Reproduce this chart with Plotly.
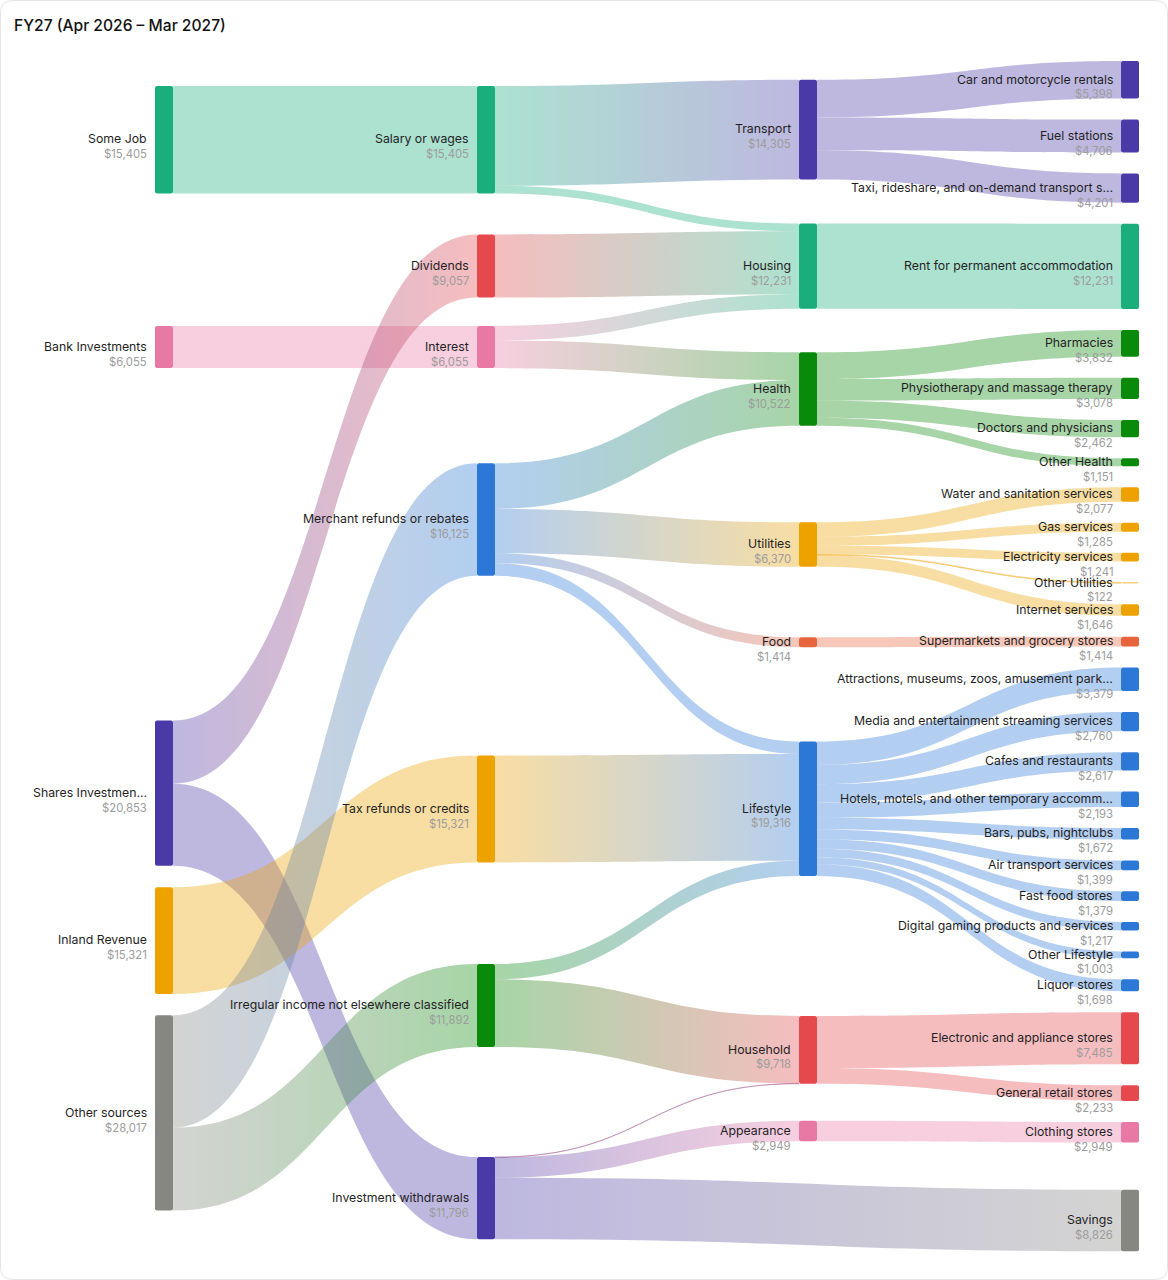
import json
import plotly.graph_objects as go

# ---------------- data ----------------
income_sources = ["Some Job", "Bank Investments", "Shares Investmen…", "Inland Revenue", "Other sources"]
income_types = ["Salary or wages", "Dividends", "Interest", "Merchant refunds or rebates",
                "Tax refunds or credits", "Irregular income not elsewhere classified",
                "Investment withdrawals"]
categories = ["Transport", "Housing", "Health", "Utilities", "Food", "Lifestyle",
              "Household", "Appearance", "Savings"]
subcategories = [
    "Car and motorcycle rentals", "Fuel stations", "Taxi, rideshare, and on-demand transport s…",
    "Rent for permanent accommodation",
    "Pharmacies", "Physiotherapy and massage therapy", "Doctors and physicians", "Other Health",
    "Water and sanitation services", "Gas services", "Electricity services", "Other Utilities",
    "Internet services",
    "Supermarkets and grocery stores",
    "Attractions, museums, zoos, amusement park…", "Media and entertainment streaming services",
    "Cafes and restaurants", "Hotels, motels, and other temporary accomm…", "Bars, pubs, nightclubs",
    "Air transport services", "Fast food stores", "Digital gaming products and services",
    "Other Lifestyle", "Liquor stores",
    "Electronic and appliance stores", "General retail stores",
    "Clothing stores",
]
sub_parent = (["Transport"] * 3 + ["Housing"] + ["Health"] * 4 + ["Utilities"] * 5 + ["Food"]
              + ["Lifestyle"] * 10 + ["Household"] * 2 + ["Appearance"])
sub_values = [5398, 4706, 4201,
              12231,
              3832, 3078, 2462, 1151,
              2077, 1285, 1241, 122, 1646,
              1414,
              3379, 2760, 2617, 2193, 1672, 1399, 1379, 1217, 1003, 1698,
              7485, 2233,
              2949]

flow_from = ["Some Job", "Bank Investments", "Shares Investmen…", "Shares Investmen…",
             "Inland Revenue", "Other sources", "Other sources",
             "Salary or wages", "Salary or wages", "Dividends", "Interest", "Interest",
             "Merchant refunds or rebates", "Merchant refunds or rebates",
             "Merchant refunds or rebates", "Merchant refunds or rebates",
             "Tax refunds or credits",
             "Irregular income not elsewhere classified", "Irregular income not elsewhere classified",
             "Investment withdrawals", "Investment withdrawals", "Investment withdrawals"]
flow_to = ["Salary or wages", "Interest", "Dividends", "Investment withdrawals",
           "Tax refunds or credits", "Merchant refunds or rebates",
           "Irregular income not elsewhere classified",
           "Transport", "Housing", "Housing", "Housing", "Health",
           "Health", "Utilities", "Food", "Lifestyle",
           "Lifestyle",
           "Lifestyle", "Household",
           "Household", "Appearance", "Savings"]
flow_value = [15405, 6055, 9057, 11796,
              15321, 16125, 11892,
              14305, 1100, 9057, 2074, 3981,
              6541, 6370, 1414, 1800,
              15321,
              2195, 9697,
              21, 2949, 8826]

# ---------------- styles ----------------
GREEN, PINK, PURPLE, ORANGE = "#1aae7d", "#e879a5", "#4a3aa7", "#eda200"
GRAY, RED, BLUE, DKGREEN, FOOD = "#878782", "#e5484d", "#2c78d6", "#0a8a0a", "#e8643c"
group_color = {
    "Some Job": GREEN, "Bank Investments": PINK, "Shares Investmen…": PURPLE,
    "Inland Revenue": ORANGE, "Other sources": GRAY,
    "Salary or wages": GREEN, "Dividends": RED, "Interest": PINK,
    "Merchant refunds or rebates": BLUE, "Tax refunds or credits": ORANGE,
    "Irregular income not elsewhere classified": DKGREEN, "Investment withdrawals": PURPLE,
    "Transport": PURPLE, "Housing": GREEN, "Health": DKGREEN, "Utilities": ORANGE,
    "Food": FOOD, "Lifestyle": BLUE, "Household": RED, "Appearance": PINK, "Savings": GRAY,
}
LINK_ALPHA = 0.36

W, H = 1168, 1280
COL_X = [164, 486, 808, 1130]          # node centre x, px
THICK = 18
KY = 0.00697                            # px per dollar
SUB_TOP, SUB_GAP = 61, 21
center_y = {                            # node centre y, px
    "Some Job": 139.7, "Bank Investments": 347, "Shares Investmen…": 793.2,
    "Inland Revenue": 940.7, "Other sources": 1112.9,
    "Salary or wages": 139.7, "Dividends": 266, "Interest": 347,
    "Merchant refunds or rebates": 519.5, "Tax refunds or credits": 809,
    "Irregular income not elsewhere classified": 1005.5, "Investment withdrawals": 1198.2,
    "Transport": 129.7, "Housing": 266.2, "Health": 389, "Utilities": 544.5, "Food": 642.2,
    "Lifestyle": 808.8, "Household": 1049.8, "Appearance": 1131, "Savings": 1220.5,
}

# ---------------- build ----------------
names = income_sources + income_types + categories + subcategories
idx = {n: i for i, n in enumerate(names)}
col = {}
for n in income_sources:
    col[n] = 0
for n in income_types:
    col[n] = 1
for n in categories:
    col[n] = 2
col["Savings"] = 3
for n in subcategories:
    col[n] = 3

y = SUB_TOP
for n, v in zip(subcategories, sub_values):
    h = v * KY
    center_y[n] = y + h / 2
    y += h + SUB_GAP

node_color = [group_color.get(n) for n in names]
for n, p in zip(subcategories, sub_parent):
    node_color[idx[n]] = group_color[p]

src = [idx[a] for a in flow_from] + [idx[p] for p in sub_parent]
tgt = [idx[b] for b in flow_to] + [idx[s] for s in subcategories]
val = flow_value + sub_values

def rgb(hx):
    hx = hx.lstrip("#")
    return tuple(int(hx[i:i + 2], 16) for i in (0, 2, 4))

def blend(a, b):
    ra, rb = rgb(a), rgb(b)
    m = tuple(round((x + y2) / 2) for x, y2 in zip(ra, rb))
    return f"rgba({m[0]},{m[1]},{m[2]},{LINK_ALPHA})"

link_color = [blend(node_color[s], node_color[t]) for s, t in zip(src, tgt)]

# displayed node totals
incoming = [0] * len(names)
outgoing = [0] * len(names)
for s, t, v in zip(src, tgt, val):
    outgoing[s] += v
    incoming[t] += v
shown = [incoming[i] if incoming[i] else outgoing[i] for i in range(len(names))]

# d3-sankey vertical scale: pad chosen so that ky == KY for the densest column
col3_nodes = [i for i, n in enumerate(names) if col[n] == 3]
col3_total = sum(max(incoming[i], outgoing[i]) for i in col3_nodes)
PAD = (H - KY * col3_total) / (len(col3_nodes) - 1)

fig = go.Figure(go.Sankey(
    arrangement="fixed",
    domain=dict(x=[0, 1], y=[0, 1]),
    node=dict(
        label=[""] * len(names),
        customdata=names,
        hovertemplate="%{customdata}<br>$%{value:,.0f}<extra></extra>",
        color=node_color,
        thickness=THICK,
        pad=PAD,
        line=dict(width=0),
        x=[COL_X[col[n]] / W for n in names],
        y=[center_y[n] / H for n in names],
    ),
    link=dict(source=src, target=tgt, value=val, color=link_color,
              hovertemplate="$%{value:,.0f}<extra></extra>"),
))

annotations = []
for i, n in enumerate(names):
    cx, cy = COL_X[col[n]], center_y[n]
    xr = (cx - THICK / 2 - 6) / W
    annotations.append(dict(
        x=xr, y=1 - (cy - 0.8) / H, xref="paper", yref="paper",
        xanchor="right", yanchor="middle", showarrow=False, text=n,
        font=dict(family="Inter", size=12.3, color="#1f1f1f")))
    annotations.append(dict(
        x=xr, y=1 - (cy + 14.6) / H, xref="paper", yref="paper",
        xanchor="right", yanchor="middle", showarrow=False, text=f"${shown[i]:,}",
        font=dict(family="Inter", size=11.3, color="#9c9c9c")))

annotations.append(dict(
    x=12 / W, y=1 - 26 / H, xref="paper", yref="paper", xanchor="left", yanchor="middle",
    showarrow=False, text="FY27 (Apr 2026 – Mar 2027)",
    font=dict(family="Inter", size=15.6, color="#111111", weight=500)))

# card border with rounded corners
r = 12
x0, x1, y0, y1 = 0.5 / W, (W - 0.5) / W, 0.5 / H, (H - 0.5) / H
rx, ry = r / W, r / H
card = (f"M {x0+rx},{y0} L {x1-rx},{y0} Q {x1},{y0} {x1},{y0+ry} L {x1},{y1-ry} "
        f"Q {x1},{y1} {x1-rx},{y1} L {x0+rx},{y1} Q {x0},{y1} {x0},{y1-ry} "
        f"L {x0},{y0+ry} Q {x0},{y0} {x0+rx},{y0} Z")

fig.update_layout(
    width=W, height=H,
    margin=dict(l=0, r=0, t=0, b=0),
    paper_bgcolor="white",
    font=dict(family="Inter", size=12, color="#1f1f1f"),
    annotations=annotations,
    shapes=[dict(type="path", path=card, xref="paper", yref="paper",
                 line=dict(color="#e4e4e4", width=1), fillcolor="rgba(0,0,0,0)", layer="above")],
)

src_cols = [node_color[s] for s in src]
tgt_cols = [node_color[t] for t in tgt]
post = """
(function(){
  document.documentElement.style.margin = '0';
  document.body.style.margin = '0';
  document.body.style.overflow = 'hidden';
  var gd = document.getElementById('{plot_id}');
  var SRC = %s, TGT = %s;
  var ns = 'http://www.w3.org/2000/svg';
  var svg = gd.querySelector('svg.main-svg');
  var defs = document.createElementNS(ns, 'defs');
  svg.insertBefore(defs, svg.firstChild);
  gd.querySelectorAll('path.sankey-link').forEach(function(p, k){
    var d = p.__data__; if(!d || !d.link) return;
    var l = d.link; var i = (l.pointNumber !== undefined) ? l.pointNumber : k;
    var g = document.createElementNS(ns, 'linearGradient');
    var id = 'skgrad' + k;
    g.setAttribute('id', id);
    g.setAttribute('gradientUnits', 'userSpaceOnUse');
    g.setAttribute('x1', l.source.x1); g.setAttribute('y1', 0);
    g.setAttribute('x2', l.target.x0); g.setAttribute('y2', 0);
    [[0, SRC[i]], [1, TGT[i]]].forEach(function(s){
      var st = document.createElementNS(ns, 'stop');
      st.setAttribute('offset', s[0]); st.setAttribute('stop-color', s[1]);
      g.appendChild(st);
    });
    defs.appendChild(g);
    p.style.fill = 'url(#' + id + ')';
  });
  gd.querySelectorAll('rect.node-rect').forEach(function(r){
    r.setAttribute('rx', 2); r.setAttribute('ry', 2);
  });
})();
""" % (json.dumps(src_cols), json.dumps(tgt_cols))

fig.write_html("out.html", post_script=post, config={"displayModeBar": False})
